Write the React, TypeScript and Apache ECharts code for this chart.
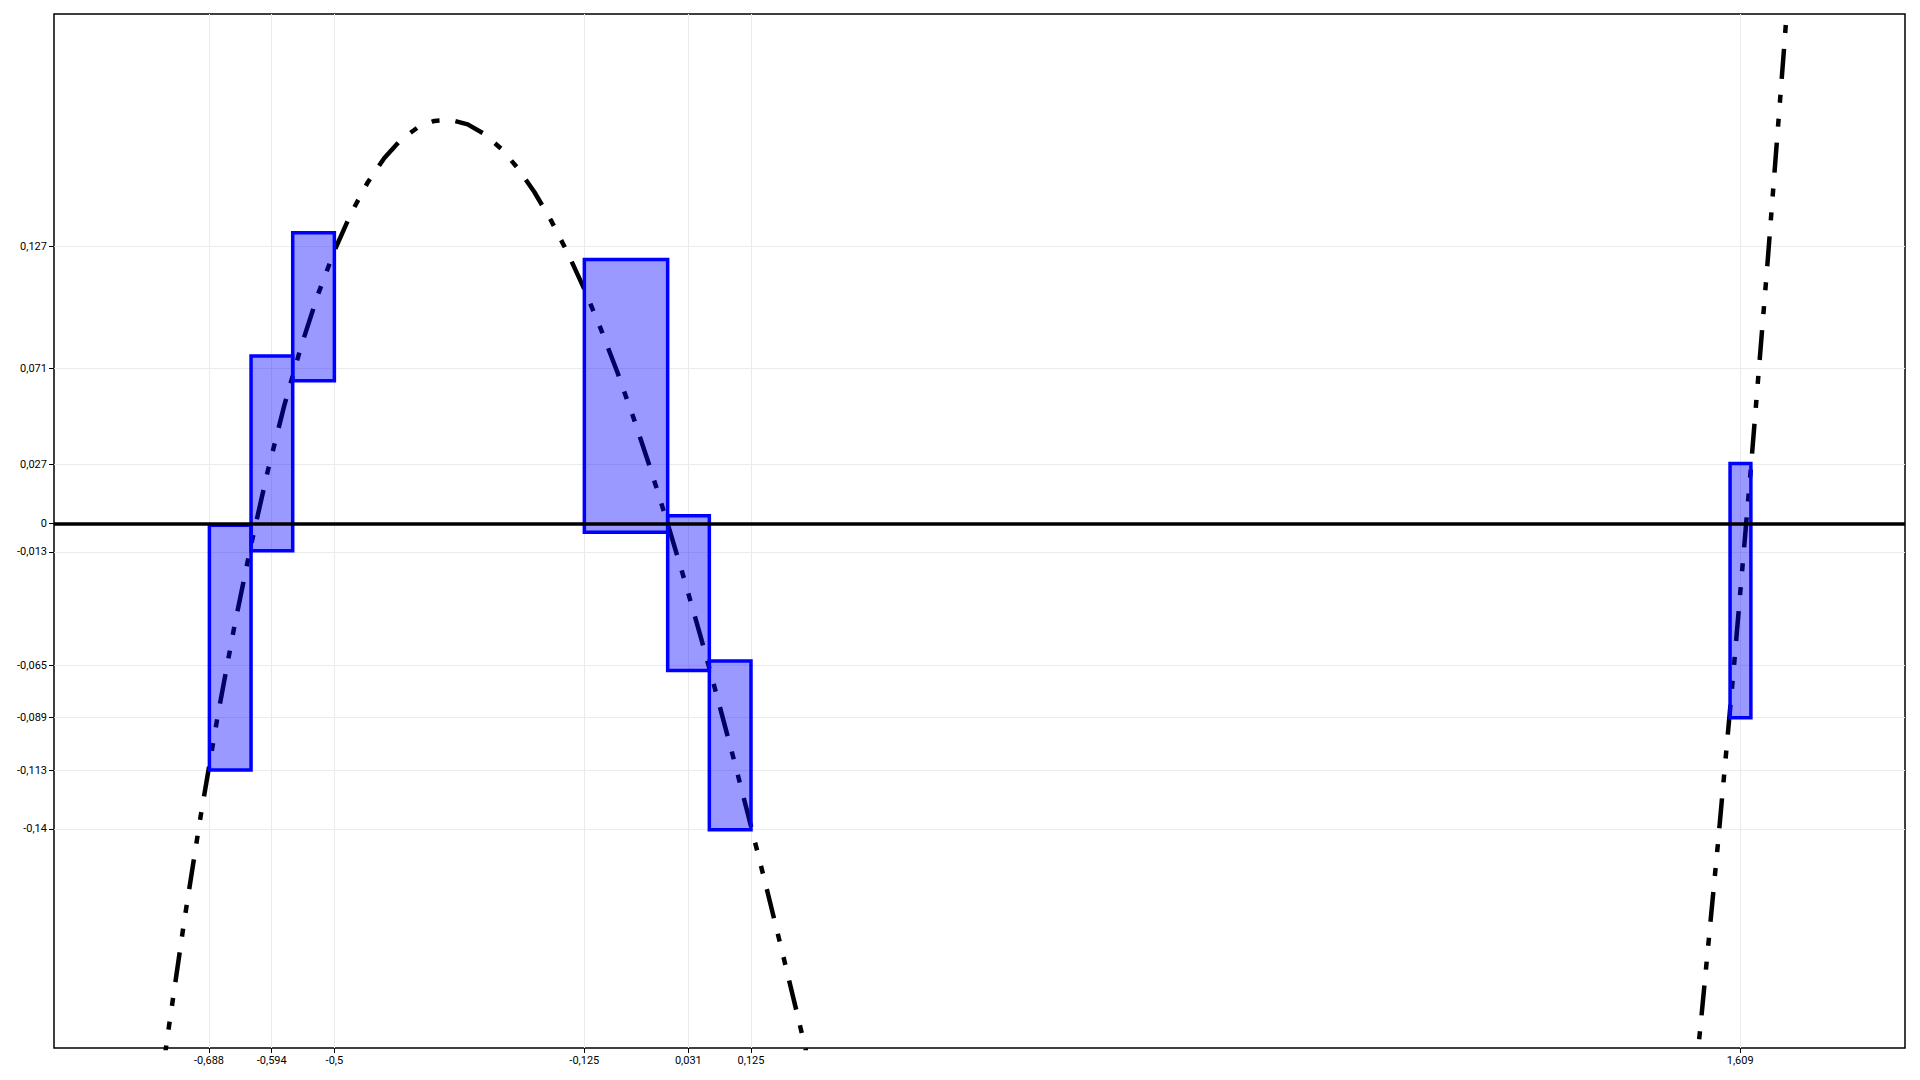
import React, { useEffect, useRef } from "react";
import * as echarts from "echarts";

// Curve samples (x, y)
const curveX = [
  -0.95, -0.9, -0.85, -0.8, -0.775, -0.75, -0.725, -0.7, -0.675, -0.65, -0.625, -0.6, -0.575, -0.55, -0.525,
  -0.5, -0.475, -0.45, -0.425, -0.4, -0.375, -0.35, -0.325, -0.3, -0.275, -0.25, -0.225, -0.2, -0.175, -0.15,
  -0.125, -0.1, -0.075, -0.05, -0.025, 0, 0.025, 0.05, 0.075, 0.1, 0.125, 0.15, 0.175, 0.2, 0.225, 0.25, 0.3,
  0.5, 0.75, 1.0, 1.25, 1.45, 1.5, 1.525, 1.55, 1.575, 1.6, 1.625, 1.65, 1.675, 1.7, 1.725, 1.75, 1.8, 1.85, 1.9,
];
const curveY = [
  -0.8099, -0.639, -0.4866, -0.352, -0.2911, -0.2344, -0.1817, -0.133, -0.0882, -0.0471, -0.0098, 0.024, 0.0543,
  0.0811, 0.1047, 0.125, 0.1422, 0.1564, 0.1676, 0.176, 0.1816, 0.1846, 0.185, 0.183, 0.1786, 0.1719, 0.163,
  0.152, 0.139, 0.1241, 0.1074, 0.089, 0.069, 0.0474, 0.0244, 0, -0.0256, -0.0524, -0.0802, -0.109, -0.1387,
  -0.1691, -0.2003, -0.232, -0.2642, -0.2969, -0.363, -0.625, -0.8906, -1.0, -0.8594, -0.5039, -0.375, -0.304,
  -0.2286, -0.1486, -0.064, 0.0254, 0.1196, 0.2188, 0.323, 0.4323, 0.5469, 0.792, 1.0591, 1.349,
];

// Boxes: x interval and y interval
const boxXStart = [-0.6875, -0.625, -0.5625, -0.125, 0, 0.0625, 1.59375];
const boxXEnd = [-0.625, -0.5625, -0.5, 0, 0.0625, 0.125, 1.625];
const boxYLow = [-0.113, -0.0125, 0.0655, -0.004, -0.0673, -0.1403, -0.089];
const boxYHigh = [-0.0008, 0.0768, 0.1333, 0.1211, 0.0036, -0.063, 0.0276];

const xTicks = [-0.688, -0.594, -0.5, -0.125, 0.031, 0.125, 1.609];
const yTicks = [0.127, 0.071, 0.027, 0, -0.013, -0.065, -0.089, -0.113, -0.14];

const X_MIN = -0.9206;
const X_MAX = 1.8562;
const Y_MIN = -0.2404;
const Y_MAX = 0.2336;

const fmt = (v: number) => String(v).replace(".", ",");

export default function App() {
  const ref = useRef<HTMLDivElement>(null);

  useEffect(() => {
    if (!ref.current) return;
    const chart = echarts.init(ref.current, undefined, { renderer: "svg" });

    const curveData = curveX.map((x, i) => [x, curveY[i]]);
    const boxData = boxXStart.map((x0, i) => [x0, boxXEnd[i], boxYLow[i], boxYHigh[i]]);

    const labelStyle = {
      color: "#000",
      fontSize: 11,
      fontFamily: "Roboto, 'Noto Sans', sans-serif",
    };

    chart.setOption({
      animation: false,
      backgroundColor: "#fff",
      grid: {
        left: 54,
        right: 15,
        top: 14,
        bottom: 32,
        show: true,
        borderColor: "#000",
        borderWidth: 1.5,
        backgroundColor: "transparent",
      },
      xAxis: {
        type: "value",
        min: X_MIN,
        max: X_MAX,
        position: "bottom",
        axisLine: { show: false, onZero: false },
        axisTick: {
          show: true,
          length: 5,
          customValues: xTicks,
          lineStyle: { color: "#000", width: 1 },
        },
        axisLabel: { ...labelStyle, margin: 7, customValues: xTicks, formatter: fmt },
        splitLine: { show: true, lineStyle: { color: "#ebebeb", width: 1 } },
      },
      yAxis: {
        type: "value",
        min: Y_MIN,
        max: Y_MAX,
        position: "left",
        axisLine: { show: false, onZero: false },
        axisTick: {
          show: true,
          length: 5,
          customValues: yTicks,
          lineStyle: { color: "#000", width: 1 },
        },
        axisLabel: { ...labelStyle, margin: 7, customValues: yTicks, formatter: fmt },
        splitLine: { show: true, lineStyle: { color: "#ebebeb", width: 1 } },
      },
      series: [
        {
          type: "line",
          data: [],
          silent: true,
          z: 2,
          markLine: {
            silent: true,
            symbol: ["none", "none"],
            label: { show: false },
            lineStyle: { color: "#000", width: 3.5, type: "solid" },
            data: [{ yAxis: 0 }],
          },
        },
        {
          type: "line",
          data: curveData,
          showSymbol: false,
          silent: true,
          clip: true,
          z: 3,
          lineStyle: {
            color: "#000",
            width: 4.5,
            type: [30, 16, 8, 16, 8, 16],
            cap: "butt",
          },
        },
        {
          type: "custom",
          data: boxData,
          z: 4,
          silent: true,
          encode: { x: [0, 1], y: [2, 3] },
          renderItem: (params: any, api: any) => {
            const p0 = api.coord([api.value(0), api.value(3)]);
            const p1 = api.coord([api.value(1), api.value(2)]);
            return {
              type: "rect",
              shape: { x: p0[0], y: p0[1], width: p1[0] - p0[0], height: p1[1] - p0[1] },
              style: { fill: "rgba(0,0,255,0.4)", stroke: "#0000ff", lineWidth: 3.5 },
            };
          },
        },
      ],
    });

    return () => chart.dispose();
  }, []);

  return (
    <div
      ref={ref}
      style={{ position: "fixed", left: 0, top: 0, width: 1920, height: 1080, background: "#fff" }}
    />
  );
}
